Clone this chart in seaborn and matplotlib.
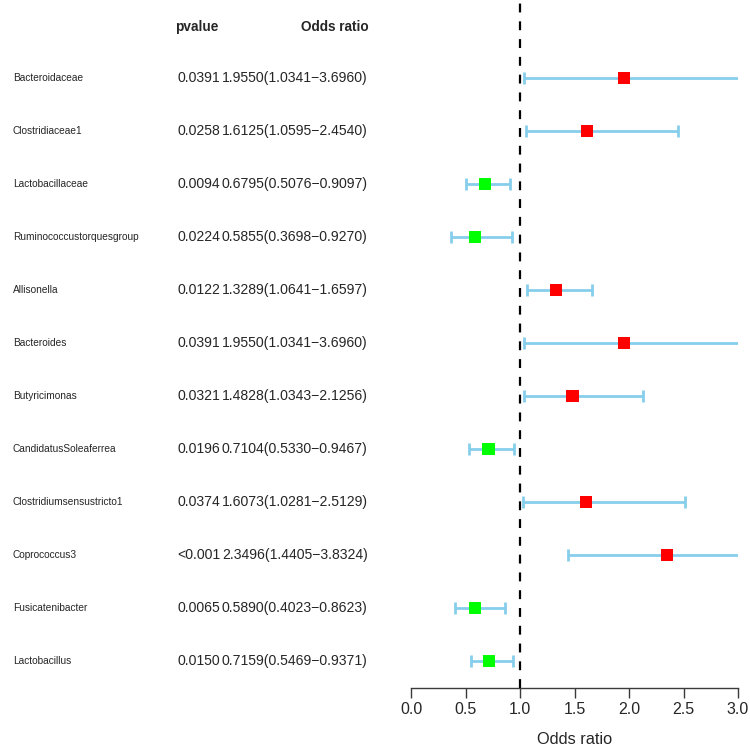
import numpy as np
import matplotlib
matplotlib.use("Agg")
import matplotlib.pyplot as plt
import matplotlib.transforms as mtransforms
import seaborn as sns
import pandas as pd

# data
taxa = ["Bacteroidaceae", "Clostridiaceae1", "Lactobacillaceae",
        "Ruminococcustorquesgroup", "Allisonella", "Bacteroides",
        "Butyricimonas", "CandidatusSoleaferrea", "Clostridiumsensustricto1",
        "Coprococcus3", "Fusicatenibacter", "Lactobacillus"]
pvalues = ["0.0391", "0.0258", "0.0094", "0.0224", "0.0122", "0.0391",
           "0.0321", "0.0196", "0.0374", "<0.001", "0.0065", "0.0150"]
odds = [1.9550, 1.6125, 0.6795, 0.5855, 1.3289, 1.9550,
        1.4828, 0.7104, 1.6073, 2.3496, 0.5890, 0.7159]
lower = [1.0341, 1.0595, 0.5076, 0.3698, 1.0641, 1.0341,
         1.0343, 0.5330, 1.0281, 1.4405, 0.4023, 0.5469]
upper = [3.6960, 2.4540, 0.9097, 0.9270, 1.6597, 3.6960,
         2.1256, 0.9467, 2.5129, 3.8324, 0.8623, 0.9371]
xticks = [0.0, 0.5, 1.0, 1.5, 2.0, 2.5, 3.0]

df = pd.DataFrame({"taxon": taxa, "p": pvalues, "OR": odds,
                   "lo": lower, "hi": upper})
df["row"] = np.arange(len(df))
df["direction"] = np.where(df["OR"] > 1, "risk", "protective")

sns.set_theme(style="white")
plt.rcParams["font.family"] = ["Liberation Sans", "DejaVu Sans"]

fig = plt.figure(figsize=(7.5, 7.5), dpi=100)
ax = fig.add_axes([0.548, 0.0827, 0.436, 0.9173])

# confidence intervals (clipped to the axis range like the original)
ax.errorbar(df["OR"], df["row"],
            xerr=[df["OR"] - df["lo"], df["hi"] - df["OR"]],
            fmt="none", ecolor="#87CEEB", elinewidth=2.0,
            capsize=4.3, capthick=2.0, zorder=2)

sns.scatterplot(data=df, x="OR", y="row", hue="direction",
                palette={"risk": "#FF0000", "protective": "#00FF00"},
                marker="s", s=80, linewidth=0, legend=False, ax=ax, zorder=3)

ax.axvline(1.0, color="black", linestyle=(0, (4, 4)), linewidth=1.6, zorder=1)

ax.set_xlim(0, 3)
ax.set_ylim(11.51, -1.47)
ax.set_yticks([])
ax.set_xticks(xticks)
ax.set_xticklabels([f"{t:.1f}" for t in xticks], fontsize=11.5)
ax.set_xlabel("Odds ratio", fontsize=11.8, labelpad=11)
ax.set_ylabel("")
for side in ["top", "right", "left"]:
    ax.spines[side].set_visible(False)
ax.spines["bottom"].set_color("#3a3a3a")
ax.spines["bottom"].set_linewidth(1.0)
ax.tick_params(axis="x", direction="out", length=7, width=1.0,
               color="#3a3a3a", pad=3, bottom=True)

# table text on the left
trans = mtransforms.blended_transform_factory(fig.transFigure, ax.transData)
ax.text(0.234, -0.97, "pvalue", transform=trans, fontsize=9.8,
        fontweight="bold", ha="left", va="center")
ax.text(0.491, -0.97, "Odds ratio", transform=trans, fontsize=9.8,
        fontweight="bold", ha="right", va="center")
for _, r in df.iterrows():
    ax.text(0.017, r["row"], r["taxon"], transform=trans, fontsize=7.3,
            ha="left", va="center")
    ax.text(0.236, r["row"], r["p"], transform=trans, fontsize=10.1,
            ha="left", va="center")
    ax.text(0.296, r["row"],
            f"{r['OR']:.4f}({r['lo']:.4f}\u2212{r['hi']:.4f})",
            transform=trans, fontsize=10.1, ha="left", va="center")

fig.savefig("out.png", dpi=100)
